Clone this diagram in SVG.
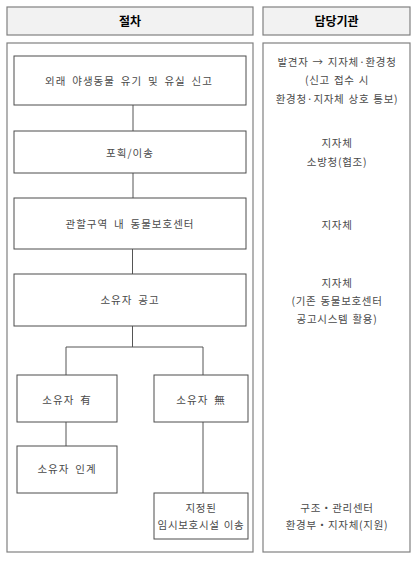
<svg xmlns="http://www.w3.org/2000/svg" width="419" height="562" viewBox="0 0 419 562">
<style>
.hdr{fill:#f2f2f2;stroke:#808080;stroke-width:1.2}
.panel{fill:#fff;stroke:#808080;stroke-width:1.2}
.box{fill:#fff;stroke:#4d4d4d;stroke-width:1}
.t{font-family:"Noto Sans CJK KR","Noto Sans",sans-serif;font-size:10.5px;fill:#4a4a4a;text-anchor:middle;letter-spacing:0.7px;word-spacing:1px}
.w{letter-spacing:1px;word-spacing:2.5px}
.h{font-family:"Noto Sans CJK KR","Noto Sans",sans-serif;font-size:12px;font-weight:bold;fill:#000;text-anchor:middle}
.c{stroke:#555;stroke-width:1;fill:none}
</style>
<rect width="419" height="562" fill="#fff"/>
<g id="headers">
<rect class="hdr" x="7" y="7" width="246" height="28"/>
<text class="h" x="130" y="25.5">절차</text>
<rect class="hdr" x="263" y="7" width="147" height="28"/>
<text class="h" x="336.5" y="25.5">담당기관</text>
</g>
<g id="panels">
<rect class="panel" x="7" y="43" width="246" height="509"/>
<rect class="panel" x="263" y="43" width="147" height="509"/>
</g>
<g id="connectors">
<line class="c" stroke="#000" x1="133" y1="105" x2="133" y2="131"/>
<line class="c" stroke="#000" x1="133" y1="173" x2="133" y2="198"/>
<line class="c" x1="132.5" y1="249" x2="132.5" y2="274"/>
<line class="c" x1="132.5" y1="326" x2="132.5" y2="347"/>
<polyline class="c" points="66,375 66,347 203,347 203,375"/>
<line class="c" x1="66" y1="422" x2="66" y2="446"/>
<line class="c" x1="203" y1="422" x2="203" y2="493"/>
</g>
<g id="n1">
<rect class="box" x="14" y="56" width="232" height="49"/>
<text class="t w" x="129" y="84.5">외래 야생동물 유기 및 유실 신고</text>
</g>
<g id="n2">
<rect class="box" x="14" y="131" width="232" height="42"/>
<text class="t w" x="130" y="156.5">포획/이송</text>
</g>
<g id="n3">
<rect class="box" x="14" y="198" width="232" height="51"/>
<text class="t w" x="130" y="227.5">관할구역 내 동물보호센터</text>
</g>
<g id="n4">
<rect class="box" x="14" y="274" width="232" height="52"/>
<text class="t w" x="130" y="303.5">소유자 공고</text>
</g>
<g id="n5">
<rect class="box" x="17" y="375" width="100" height="47"/>
<text class="t w" x="67" y="403.5">소유자 有</text>
</g>
<g id="n6">
<rect class="box" x="154" y="375" width="94" height="47"/>
<text class="t w" x="201" y="403.5">소유자 無</text>
</g>
<g id="n7">
<rect class="box" x="17" y="446" width="100" height="47"/>
<text class="t w" x="67" y="472.5">소유자 인계</text>
</g>
<g id="n8">
<rect class="box" x="154" y="493" width="94" height="46"/>
<text class="t" x="201" y="511.5">지정된</text>
<text class="t" x="201" y="528.5" letter-spacing="0">임시보호시설 이송</text>
</g>
<g id="agencies">
<text class="t" x="337" y="65.5">발견자 → 지자체·환경청</text>
<text class="t" x="337" y="83.5">(신고 접수 시</text>
<text class="t" x="337" y="102.5">환경청·지자체 상호 통보)</text>
<text class="t" x="337" y="146.5">지자체</text>
<text class="t" x="337" y="165.5">소방청(협조)</text>
<text class="t" x="337" y="228.5">지자체</text>
<text class="t" x="337" y="286.5">지자체</text>
<text class="t" x="337" y="304.5">(기존 동물보호센터</text>
<text class="t" x="337" y="322.5">공고시스템 활용)</text>
<text class="t" x="337" y="511.5">구조・관리센터</text>
<text class="t" x="337" y="528.5">환경부・지자체(지원)</text>
</g>
</svg>
